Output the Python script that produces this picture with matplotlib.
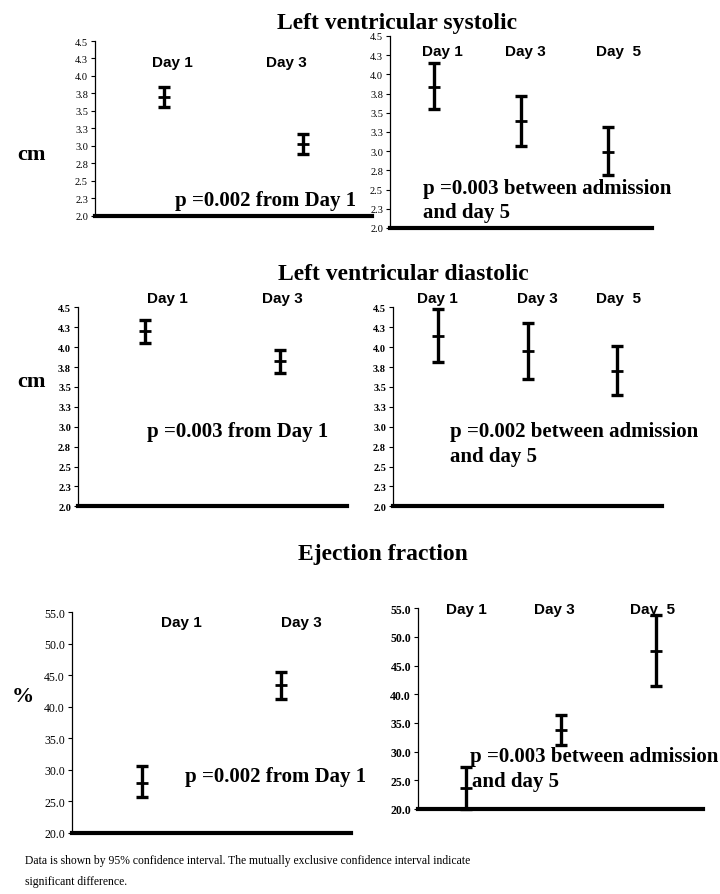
import matplotlib
matplotlib.use("Agg")
import matplotlib.pyplot as plt

W, H = 720, 895

# ---------------- data ----------------
days_two = ["Day 1", "Day 3"]
days_three = ["Day 1", "Day 3", "Day  5"]

sys_a_mean = [3.70, 3.03]
sys_a_lo = [3.56, 2.88]
sys_a_hi = [3.84, 3.17]

sys_b_mean = [3.83, 3.39, 2.99]
sys_b_lo = [3.55, 3.07, 2.69]
sys_b_hi = [4.15, 3.72, 3.31]

dia_a_mean = [4.20, 3.82]
dia_a_lo = [4.05, 3.68]
dia_a_hi = [4.34, 3.96]

dia_b_mean = [4.14, 3.95, 3.70]
dia_b_lo = [3.81, 3.60, 3.40]
dia_b_hi = [4.48, 4.30, 4.02]

ef_a_mean = [28.0, 43.4]
ef_a_lo = [25.7, 41.25]
ef_a_hi = [30.6, 45.6]

ef_b_mean = [23.6, 33.8, 47.6]
ef_b_lo = [20.0, 31.2, 41.5]
ef_b_hi = [27.4, 36.4, 53.8]

cm_ticks = [2.0, 2.25, 2.5, 2.75, 3.0, 3.25, 3.5, 3.75, 4.0, 4.25, 4.5]
cm_ticklabels = ["2.0", "2.3", "2.5", "2.8", "3.0", "3.3", "3.5", "3.8", "4.0", "4.3", "4.5"]
ef_ticks = [20, 25, 30, 35, 40, 45, 50, 55]
ef_ticklabels = ["20.0", "25.0", "30.0", "35.0", "40.0", "45.0", "50.0", "55.0"]

titles = ["Left ventricular systolic", "Left ventricular diastolic", "Ejection fraction"]
footnote = ["Data is shown by 95% confidence interval. The mutually exclusive confidence interval indicate",
            "significant difference."]

SERIF = "Liberation Serif"
SANS = "Liberation Sans"

fig = plt.figure(figsize=(W / 100, H / 100), dpi=100)
fig.patch.set_facecolor("white")


def fx(x):
    return x / W


def fy(y):
    return 1 - y / H


def make_ax(x0, x1, ytop, ybot, ylim, ticks, ticklabels, means, lo, hi, tick_bold, tick_size):
    ax = fig.add_axes([fx(x0), fy(ybot), fx(x1) - fx(x0), (ybot - ytop) / H])
    n = len(means)
    xs = [i + 0.5 for i in range(n)]
    yerr = [[m - l for m, l in zip(means, lo)], [h - m for m, h in zip(means, hi)]]
    ax.errorbar(xs, means, yerr=yerr, fmt="none", ecolor="black", elinewidth=2.4,
                capsize=4.5, capthick=2.4, clip_on=False)
    ax.plot(xs, means, linestyle="none", marker="_", markersize=8, markeredgewidth=2.0,
            color="black", clip_on=False)
    ax.set_xlim(0, n)
    ax.set_ylim(*ylim)
    ax.set_yticks(ticks)
    ax.set_yticklabels(ticklabels, fontfamily=SERIF, fontsize=tick_size,
                       fontweight="bold" if tick_bold else "normal")
    ax.set_xticks([])
    for s in ["top", "right"]:
        ax.spines[s].set_visible(False)
    ax.spines["left"].set_linewidth(0.9)
    ax.spines["bottom"].set_linewidth(3.0)
    ax.tick_params(axis="y", length=3, width=0.8, pad=2)
    ax.set_facecolor("none")
    return ax


make_ax(95, 372, 42, 216.7, (2.0, 4.5), cm_ticks, cm_ticklabels, sys_a_mean, sys_a_lo, sys_a_hi, False, 7.5)
make_ax(390, 652, 37, 229, (2.0, 4.5), cm_ticks, cm_ticklabels, sys_b_mean, sys_b_lo, sys_b_hi, False, 7.5)
make_ax(78, 347, 308.3, 507.3, (2.0, 4.5), cm_ticks, cm_ticklabels, dia_a_mean, dia_a_lo, dia_a_hi, True, 7.5)
make_ax(393, 662, 308.3, 507.3, (2.0, 4.5), cm_ticks, cm_ticklabels, dia_b_mean, dia_b_lo, dia_b_hi, True, 7.5)
make_ax(72, 351, 613.3, 834, (20, 55), ef_ticks, ef_ticklabels, ef_a_mean, ef_a_lo, ef_a_hi, False, 8.5)
make_ax(418, 703, 609.3, 810, (20, 55), ef_ticks, ef_ticklabels, ef_b_mean, ef_b_lo, ef_b_hi, True, 8.5)


def day_labels(labels, xs, y):
    for lab, x in zip(labels, xs):
        fig.text(fx(x), fy(y), lab, ha="center", va="center", fontfamily=SANS,
                 fontweight="bold", fontsize=11)


day_labels(days_two, [172, 286], 63)
day_labels(days_three, [442, 525, 618], 52)
day_labels(days_two, [167, 282], 299)
day_labels(days_three, [437, 537, 619], 299)
day_labels(days_two, [181, 301], 623)
day_labels(days_three, [466, 554, 652], 610)


def ptext(x, y, s):
    fig.text(fx(x), fy(y), s, ha="left", va="center", fontfamily=SERIF,
             fontweight="bold", fontsize=15)


ptext(175, 201, "p =0.002 from Day 1")
ptext(423, 189, "p =0.003 between admission")
ptext(423, 213, "and day 5")
ptext(147, 432, "p =0.003 from Day 1")
ptext(450, 432, "p =0.002 between admission")
ptext(450, 457, "and day 5")
ptext(185, 777, "p =0.002 from Day 1")
ptext(470, 757, "p =0.003 between admission")
ptext(472, 782, "and day 5")

for t, (x, y) in zip(titles, [(397, 23), (403, 275), (383, 555)]):
    fig.text(fx(x), fy(y), t, ha="center", va="center", fontfamily=SERIF,
             fontweight="bold", fontsize=17)

for u, (x, y) in zip(["cm", "cm", "%"], [(31, 155), (31, 382), (23, 697)]):
    fig.text(fx(x), fy(y), u, ha="center", va="center", fontfamily=SERIF,
             fontweight="bold", fontsize=16)

fig.text(fx(25), fy(861), footnote[0], ha="left", va="center", fontfamily=SERIF, fontsize=8.4)
fig.text(fx(25), fy(882), footnote[1], ha="left", va="center", fontfamily=SERIF, fontsize=8.4)

fig.savefig("out.png", dpi=100, facecolor="white")
